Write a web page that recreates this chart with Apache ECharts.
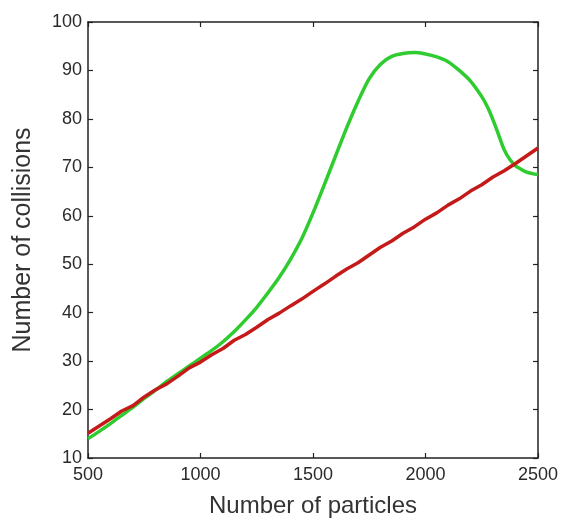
<!DOCTYPE html>
<html>
<head>
<meta charset="utf-8">
<script src="https://cdn.jsdelivr.net/npm/echarts@6/dist/echarts.min.js"></script>
<style>html,body{margin:0;padding:0;background:#fff}#c{width:562px;height:520px}</style>
</head>
<body>
<div id="c"></div>
<script>
const xTicks = [500, 1000, 1500, 2000, 2500];
const yTicks = [10, 20, 30, 40, 50, 60, 70, 80, 90, 100];

const redX = [500,550,600,650,700,750,800,850,900,950,1000,1050,1100,1150,1200,1250,1300,1350,1400,1450,1500,1550,1600,1650,1700,1750,1800,1850,1900,1950,2000,2050,2100,2150,2200,2250,2300,2350,2400,2450,2500];
const redY = [15.1,16.6,18.1,19.7,20.8,22.6,24.1,25.3,26.9,28.6,29.8,31.3,32.6,34.3,35.5,37.0,38.6,39.9,41.4,42.8,44.4,45.9,47.5,49.0,50.3,51.9,53.5,54.8,56.4,57.7,59.3,60.6,62.2,63.5,65.1,66.4,68.0,69.3,70.8,72.4,74.0];

const greenX = [500,550,600,650,700,750,800,850,900,950,1000,1050,1100,1150,1200,1250,1300,1350,1400,1450,1500,1550,1600,1650,1700,1750,1800,1850,1900,1950,2000,2050,2100,2150,2200,2250,2275,2300,2325,2350,2375,2400,2425,2450,2475,2500];
const greenY = [14.0,15.5,17.1,18.8,20.5,22.3,24.0,25.8,27.4,29.0,30.6,32.2,34.0,36.1,38.5,41.1,44.1,47.3,51.0,55.3,60.6,66.4,72.3,78.2,83.6,88.3,91.3,92.9,93.5,93.7,93.4,92.8,91.8,90.0,87.8,84.6,82.5,79.8,76.7,73.6,71.6,70.3,69.6,69.0,68.7,68.5];

const pairs = (xs, ys) => xs.map((x, i) => [x, ys[i]]);

const chart = echarts.init(document.getElementById('c'), null, {renderer: 'canvas'});
const font = 'Liberation Sans, Arial, sans-serif';
const axisLine = {show: true, lineStyle: {color: '#222', width: 1.5}};
const tick = {show: true, inside: true, length: 5, lineStyle: {color: '#222', width: 1.2}};

chart.setOption({
  animation: false,
  backgroundColor: '#fff',
  grid: {left: 88, right: 24, top: 22, bottom: 62, containLabel: false, outerBoundsMode: 'none'},
  xAxis: [{
    type: 'value', min: 500, max: 2500, interval: 500,
    name: 'Number of particles', nameLocation: 'middle', nameGap: 36,
    nameTextStyle: {fontFamily: font, fontSize: 24, color: '#333'},
    axisLine: axisLine, axisTick: tick, splitLine: {show: false},
    axisLabel: {fontFamily: font, fontSize: 18, color: '#2a2a2a', margin: 8,
      formatter: v => xTicks.includes(v) ? String(v) : ''}
  }, {
    type: 'value', min: 500, max: 2500, interval: 500, position: 'top',
    axisLine: axisLine, axisTick: tick, splitLine: {show: false}, axisLabel: {show: false}
  }],
  yAxis: [{
    type: 'value', min: 10, max: 100, interval: 10,
    name: 'Number of collisions', nameLocation: 'middle', nameGap: 52, nameRotate: 90,
    nameTextStyle: {fontFamily: font, fontSize: 25, color: '#333'},
    axisLine: axisLine, axisTick: tick, splitLine: {show: false},
    axisLabel: {fontFamily: font, fontSize: 18, color: '#2a2a2a', margin: 6,
      formatter: v => yTicks.includes(v) ? String(v) : ''}
  }, {
    type: 'value', min: 10, max: 100, interval: 10, position: 'right',
    axisLine: axisLine, axisTick: tick, splitLine: {show: false}, axisLabel: {show: false}
  }],
  series: [{
    type: 'line', data: pairs(greenX, greenY), showSymbol: false, smooth: 0.3,
    lineStyle: {color: '#2ecc2e', width: 3.5}, z: 2
  }, {
    type: 'line', data: pairs(redX, redY), showSymbol: false,
    lineStyle: {color: '#c41a1a', width: 3.5}, z: 3
  }]
});
</script>
</body>
</html>
